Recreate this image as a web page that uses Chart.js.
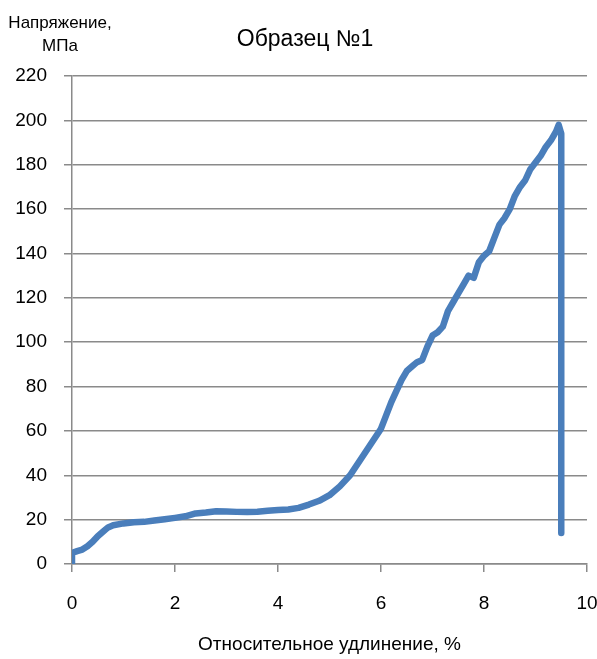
<!DOCTYPE html>
<html>
<head>
<meta charset="utf-8">
<script src="https://cdn.jsdelivr.net/npm/chart.js@4"></script>
<style>
  html, body { margin: 0; padding: 0; background: #fff; }
  #wrap { width: 597px; height: 659px; }
</style>
</head>
<body>
<div id="wrap"><canvas id="myChart" width="597" height="659"></canvas></div>
<script>
// elongation, %
var strain = [0, 0, 0.1, 0.2, 0.3, 0.4, 0.5, 0.6, 0.7, 0.8, 1.0, 1.2, 1.4, 1.6, 1.8, 2.0, 2.2, 2.4, 2.6, 2.8,
  3.0, 3.2, 3.4, 3.6, 3.8, 4.0, 4.2, 4.4, 4.6, 4.8, 5.0, 5.2, 5.4, 5.6, 5.8, 6.0, 6.1, 6.2, 6.3, 6.4,
  6.5, 6.6, 6.7, 6.8, 6.9, 7.0, 7.1, 7.2, 7.3, 7.4, 7.5, 7.6, 7.7, 7.8, 7.9, 8.0, 8.1, 8.2, 8.3, 8.4,
  8.5, 8.6, 8.7, 8.8, 8.9, 9.0, 9.1, 9.2, 9.3, 9.4, 9.45, 9.5, 9.5];
// stress, MPa
var stress = [0, 5, 5.8, 6.5, 8, 10, 12.5, 14.5, 16.5, 17.5, 18.3, 18.8, 19, 19.6, 20.2, 20.8, 21.5, 22.8, 23.2, 23.8,
  23.7, 23.5, 23.4, 23.6, 24, 24.3, 24.6, 25.3, 26.8, 28.5, 31, 35, 40, 47, 54, 61, 67, 73, 78, 83,
  87, 89, 91, 92, 98, 103, 104.5, 107, 114, 118, 122, 126, 130, 129, 136, 139, 141, 147, 153, 156,
  160, 166, 170, 173, 178, 181, 184, 188, 191, 195, 198, 194, 14];

var xTicks = [0, 2, 4, 6, 8, 10];
var yTicks = [0, 20, 40, 60, 80, 100, 120, 140, 160, 180, 200, 220];

var FONT = '"Liberation Sans", Arial, sans-serif';
var gridColor = '#8a8a8a';

var points = strain.map(function(x, i) { return { x: x, y: stress[i] }; });

var textPlugin = {
  id: 'extraText',
  afterDraw: function(chart) {
    var ctx = chart.ctx;
    ctx.save();
    ctx.fillStyle = '#000';
    ctx.textAlign = 'center';
    ctx.textBaseline = 'middle';
    ctx.font = '23px ' + FONT;
    ctx.fillText('Образец №1', 305, 40);
    ctx.font = '17px ' + FONT;
    ctx.fillText('Напряжение,', 60, 23);
    ctx.fillText('МПа', 60, 46);
    ctx.restore();
  }
};

var ctx = document.getElementById('myChart').getContext('2d');
var myChart = new Chart(ctx, {
  type: 'scatter',
  data: {
    datasets: [{
      data: points,
      showLine: true,
      borderColor: '#4a7ebb',
      backgroundColor: '#4a7ebb',
      borderWidth: 6.5,
      pointRadius: 0,
      borderCapStyle: 'round',
      borderJoinStyle: 'round',
      fill: false
    }]
  },
  options: {
    responsive: false,
    animation: false,
    layout: { padding: { top: 76, right: 0, left: 0, bottom: 0 } },
    plugins: {
      legend: { display: false },
      tooltip: { enabled: false },
      title: { display: false }
    },
    scales: {
      x: {
        type: 'linear',
        min: 0,
        max: 10,
        afterFit: function(scale) {
          scale.height = 95;
          scale.paddingRight = 10;
          scale.paddingLeft = 0;
        },
        afterBuildTicks: function(scale) { scale.ticks = xTicks.map(function(v) { return { value: v }; }); },
        grid: { display: true, drawOnChartArea: false, color: gridColor, lineWidth: 1.5, tickLength: 8 },
        border: { color: gridColor, width: 1.5 },
        ticks: { color: '#000', font: { family: FONT, size: 19 }, padding: 20, maxRotation: 0 },
        title: {
          display: true,
          text: 'Относительное удлинение, %',
          color: '#000',
          font: { family: FONT, size: 19 },
          padding: { top: 0, bottom: 3 }
        }
      },
      y: {
        type: 'linear',
        min: 0,
        max: 220,
        afterFit: function(scale) { scale.width = 72; },
        afterBuildTicks: function(scale) { scale.ticks = yTicks.map(function(v) { return { value: v }; }); },
        grid: { color: gridColor, lineWidth: 1.5, tickLength: 8 },
        border: { color: gridColor, width: 1.5 },
        ticks: { color: '#000', font: { family: FONT, size: 19 }, padding: 17 }
      }
    }
  },
  plugins: [textPlugin]
});
</script>
</body>
</html>
